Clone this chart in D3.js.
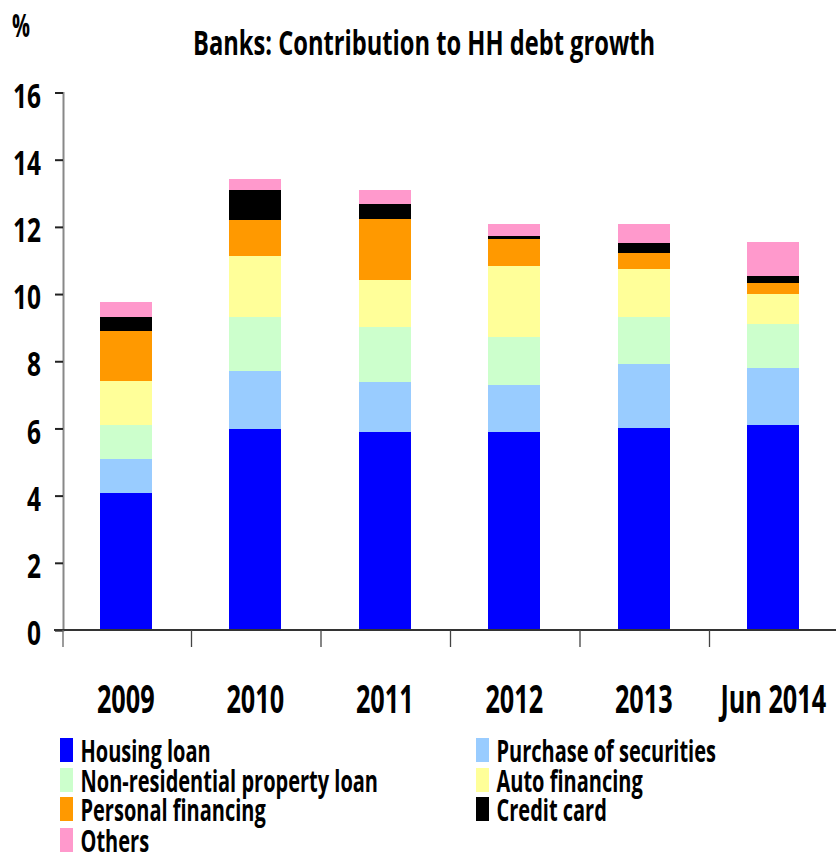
<!DOCTYPE html>
<html><head><meta charset="utf-8">
<script src="https://cdn.jsdelivr.net/npm/d3@7"></script>
<style>
html,body{margin:0;padding:0;background:#fff;}
svg{display:block;}
text{font-family:"Open Sans","Noto Sans",sans-serif;font-weight:bold;fill:#000;}
</style></head>
<body>
<script>
const categories = ["2009","2010","2011","2012","2013","Jun 2014"];
const seriesNames = ["Housing loan","Purchase of securities","Non-residential property loan","Auto financing","Personal financing","Credit card","Others"];
const seriesColors = ["#0000FF","#99CCFF","#CCFFCC","#FFFF99","#FF9900","#000000","#FF99CC"];
const housingLoan      = [4.08, 5.99, 5.90, 5.90, 6.00, 6.10];
const purchaseSec      = [1.01, 1.73, 1.49, 1.40, 1.93, 1.71];
const nonResidential   = [1.01, 1.61, 1.64, 1.41, 1.40, 1.31];
const autoFinancing    = [1.31, 1.81, 1.40, 2.14, 1.43, 0.89];
const personalFinancing= [1.49, 1.05, 1.79, 0.80, 0.47, 0.33];
const creditCard       = [0.42, 0.92, 0.47, 0.09, 0.30, 0.21];
const others           = [0.44, 0.33, 0.42, 0.36, 0.57, 1.01];
const yTicks = [0,2,4,6,8,10,12,14,16];

const W = 836, H = 854;
const svg = d3.select("body").append("svg").attr("width", W).attr("height", H);

// horizontally condense texts (reference font is narrow / stretched vertically)
function condense(sel, k) {
  sel.each(function() {
    const w = this.getComputedTextLength();
    d3.select(this).attr("textLength", w * k).attr("lengthAdjust", "spacingAndGlyphs");
  });
}

const values = [housingLoan, purchaseSec, nonResidential, autoFinancing, personalFinancing, creditCard, others];
const table = categories.map((c, i) => {
  const row = {cat: c};
  seriesNames.forEach((s, k) => row[s] = values[k][i]);
  return row;
});
const stack = d3.stack().keys(seriesNames)(table);

const axisX = 63, yBase = 630, yTop = 92.5;
const x = d3.scaleBand().domain(categories).range([61, 838]).paddingInner(0.6).paddingOuter(0.3);
const y = d3.scaleLinear().domain([0, 16]).range([yBase, yTop]);

// bars
svg.append("g").selectAll("g.series").data(stack).join("g")
  .attr("fill", (d, k) => seriesColors[k])
  .selectAll("rect").data(d => d).join("rect")
  .attr("x", d => x(d.data.cat))
  .attr("width", x.bandwidth())
  .attr("y", d => y(d[1]))
  .attr("height", d => y(d[0]) - y(d[1]))
  .attr("shape-rendering", "crispEdges");

// y axis
const yAxis = svg.append("g").attr("transform", `translate(${axisX},0)`)
  .call(d3.axisLeft(y).tickValues(yTicks).tickSize(8).tickFormat(d3.format("d")));
yAxis.select(".domain").attr("stroke", "#888").attr("stroke-width", 2);
yAxis.selectAll(".tick line").attr("stroke", "#222").attr("stroke-width", 2);
const yLab = yAxis.selectAll(".tick text").style("font-size", "34px")
  .attr("x", -22).attr("y", 2.5).attr("dy", "0.357em");
condense(yLab, 0.72);

// x axis
const step = x.step();
const xAxis = svg.append("g").attr("transform", `translate(0,${yBase})`)
  .call(d3.axisBottom(x).tickSize(0));
xAxis.select(".domain").remove();
const xLab = xAxis.selectAll(".tick text").style("font-size", "38.5px").attr("y", 82.5).attr("dy", 0);
condense(xLab, 0.655);
svg.append("line").attr("x1", 54).attr("x2", W).attr("y1", yBase).attr("y2", yBase)
  .attr("stroke", "#333").attr("stroke-width", 2);
const bounds = categories.slice(1).map(c => x(c) - x.paddingInner() * step / 2);
svg.selectAll("line.cat").data(bounds).join("line").attr("class", "cat")
  .attr("x1", d => d + 1).attr("x2", d => d + 1).attr("y1", yBase).attr("y2", yBase + 17)
  .attr("stroke", "#444").attr("stroke-width", 1.3);
svg.append("line").attr("x1", axisX).attr("x2", axisX).attr("y1", yBase).attr("y2", yBase + 17)
  .attr("stroke", "#666").attr("stroke-width", 1.3);

// title
const title = svg.append("text").attr("x", 424).attr("y", 55).attr("text-anchor", "middle")
  .style("font-size", "34px").text("Banks: Contribution to HH debt growth");
title.attr("textLength", 462).attr("lengthAdjust", "spacingAndGlyphs");
const pct = svg.append("text").attr("x", 12).attr("y", 37).style("font-size", "32px").text("%");
pct.attr("textLength", 18).attr("lengthAdjust", "spacingAndGlyphs");

// legend
const legendPos = [[60,738],[476,738],[60,768],[476,768],[60,797],[476,797],[60,828]];
const lg = svg.append("g").selectAll("g").data(seriesNames).join("g")
  .attr("transform", (s, i) => `translate(${legendPos[i][0]},${legendPos[i][1]})`);
lg.append("rect").attr("x", 0).attr("y", 0).attr("width", 13).attr("height", 24)
  .attr("fill", (s, i) => seriesColors[i]);
const lt = lg.append("text").attr("x", 20.5).attr("y", 24)
  .style("font-size", "31px").text(s => s);
condense(lt, 0.645);
</script>
</body></html>
